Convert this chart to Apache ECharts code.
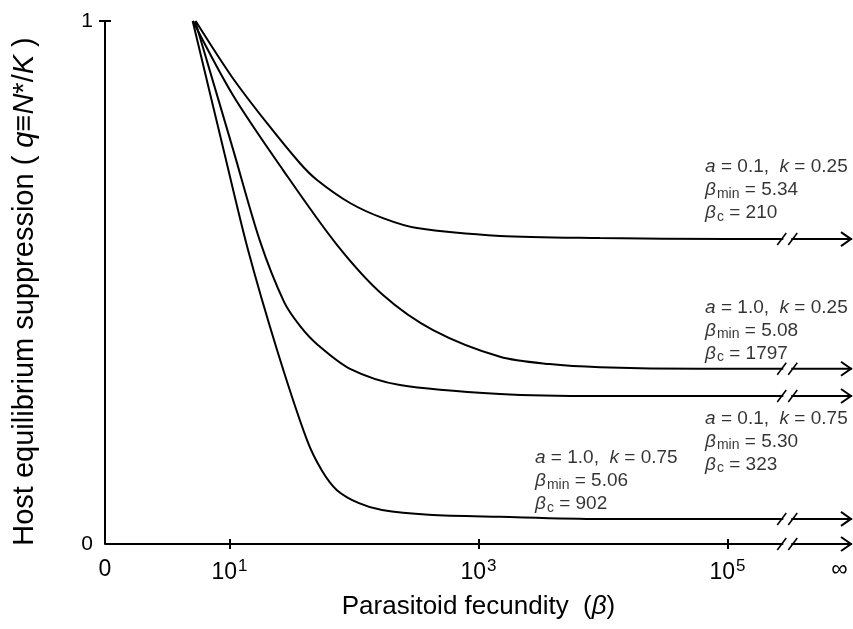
<!DOCTYPE html>
<html>
<head>
<meta charset="utf-8">
<title>Host equilibrium suppression</title>
<script src="https://cdn.jsdelivr.net/npm/echarts@6/dist/echarts.min.js"></script>
<style>
  html, body { margin: 0; padding: 0; background: #fff; }
  #chart-box { width: 853px; height: 629px; }
</style>
</head>
<body>
<div id="chart-box"></div>
<script>
// x = log10(beta), y = q = N*/K
var logBetaA = [0.728, 1.02, 1.30, 1.566, 1.703, 1.968, 2.233, 2.506, 3.173, 3.976, 5.0, 6.0];
var qA       = [1.0, 0.893, 0.805, 0.728, 0.696, 0.652, 0.623, 0.604, 0.589, 0.585, 0.583, 0.583];

var logBetaB = [0.706, 1.028, 1.43, 1.863, 2.233, 2.635, 3.173, 3.57, 3.976, 4.779, 6.0];
var qB       = [1.0, 0.858, 0.715, 0.572, 0.476, 0.409, 0.358, 0.344, 0.338, 0.335, 0.335];

var logBetaC = [0.724, 1.028, 1.245, 1.438, 1.566, 1.703, 1.968, 2.369, 3.173, 3.976, 6.0];
var qC       = [1.0, 0.755, 0.579, 0.463, 0.417, 0.382, 0.335, 0.304, 0.287, 0.283, 0.283];

var logBetaD = [0.704, 0.96, 1.149, 1.382, 1.622, 1.743, 1.863, 2.04, 2.225, 2.6, 3.173, 3.976, 6.0];
var qD       = [1.0, 0.746, 0.562, 0.371, 0.199, 0.140, 0.103, 0.078, 0.065, 0.056, 0.052, 0.048, 0.048];

var xTickValues = [1, 3, 5];
var xLabelValues = [0, 1, 3, 5, 5.9];
var xLabelExp = { 1: "1", 3: "3", 5: "5" };
var breakX = 5.48;

// annotation text blocks: [x, q of top edge]
var notePos = [[4.82, 0.743], [4.82, 0.474], [4.82, 0.262], [3.454, 0.187]];
var noteA = ["0.1", "1.0", "0.1", "1.0"];
var noteK = ["0.25", "0.25", "0.75", "0.75"];
var noteBetaMin = ["5.34", "5.08", "5.30", "5.06"];
var noteBetaC = ["210", "1797", "323", "902"];

function zip(xs, ys) {
  return xs.map(function (x, i) { return [x, ys[i]]; });
}

var font = "Liberation Sans";
var myChart = echarts.init(document.getElementById("chart-box"));

var curves = [zip(logBetaA, qA), zip(logBetaB, qB), zip(logBetaC, qC), zip(logBetaD, qD)];
var levels = [0, qA[qA.length - 1], qB[qB.length - 1], qC[qC.length - 1], qD[qD.length - 1]];

var series = curves.map(function (d) {
  return {
    type: "line",
    data: d,
    smooth: 0.3,
    showSymbol: false,
    lineStyle: { color: "#000", width: 2 },
    z: 2
  };
});

// the beta axis drawn as a line with a break and an arrow
series.push({
  type: "line",
  data: [[0, 0], [6, 0]],
  showSymbol: false,
  lineStyle: { color: "#000", width: 2 },
  z: 2
});

// break marks and arrow heads
series.push({
  type: "custom",
  clip: false,
  z: 5,
  data: levels.map(function (q) { return [breakX, q, 6]; }),
  renderItem: function (params, api) {
    var p = api.coord([api.value(0), api.value(1)]);
    var e = api.coord([api.value(2), api.value(1)]);
    var slash = { stroke: "#000", lineWidth: 1.6 };
    return {
      type: "group",
      children: [
        { type: "rect", shape: { x: p[0] - 4, y: p[1] - 3, width: 8, height: 6 }, style: { fill: "#fff" } },
        { type: "line", shape: { x1: p[0] - 10, y1: p[1] + 6, x2: p[0] - 1, y2: p[1] - 6 }, style: slash },
        { type: "line", shape: { x1: p[0] + 1, y1: p[1] + 6, x2: p[0] + 10, y2: p[1] - 6 }, style: slash },
        { type: "polyline", shape: { points: [[e[0] - 11, p[1] - 7], [e[0] - 1, p[1]], [e[0] - 11, p[1] + 7]] },
          style: { stroke: "#000", fill: null, lineWidth: 2 } }
      ]
    };
  }
});

// parameter notes
var noteRich = {
  n: { fontFamily: font, fontSize: 19, color: "#000", lineHeight: 23 },
  i: { fontFamily: font, fontSize: 19, fontStyle: "italic", color: "#000", lineHeight: 23 },
  s: { fontFamily: font, fontSize: 14, color: "#000", padding: [8, 0, 0, 1] }
};
series.push({
  type: "scatter",
  symbolSize: 0,
  silent: true,
  z: 4,
  data: notePos.map(function (p, i) {
    return {
      value: p,
      label: {
        show: true,
        position: [0, 0],
        align: "left",
        verticalAlign: "top",
        formatter:
          "{i|a}{n| = " + noteA[i] + ",  }{i|k}{n| = " + noteK[i] + "}\n" +
          "{i|β}{s|min}{n| = " + noteBetaMin[i] + "}\n" +
          "{i|β}{s|c}{n| = " + noteBetaC[i] + "}",
        rich: noteRich
      }
    };
  })
});

var option = {
  animation: false,
  backgroundColor: "#fff",
  grid: { left: 105, right: 1, top: 21, bottom: 85, containLabel: false, outerBoundsMode: "none" },
  xAxis: [
    {
      type: "value",
      min: 0,
      max: 6,
      axisLine: { show: false },
      splitLine: { show: false },
      axisTick: { show: true, customValues: xTickValues, length: 5, lineStyle: { color: "#000", width: 2 } },
      axisLabel: {
        customValues: xLabelValues,
        margin: 14,
        color: "#000",
        formatter: function (v) {
          if (v === 0) return "{n|0}";
          if (v > 5.5) return "{n|∞}";
          return "{n|10}{p|" + xLabelExp[v] + "}";
        },
        rich: {
          n: { fontFamily: font, fontSize: 23, color: "#000" },
          p: { fontFamily: font, fontSize: 17, color: "#000", padding: [0, 0, 13, 1] }
        }
      },
      name: "Parasitoid fecundity  ({i|β})",
      nameLocation: "middle",
      nameGap: 50,
      nameTextStyle: {
        fontFamily: font, fontSize: 26, color: "#000",
        rich: { i: { fontFamily: font, fontSize: 26, fontStyle: "italic", color: "#000" } }
      }
    },
    {
      type: "value",
      min: 0,
      max: 6,
      position: "bottom",
      axisLine: { show: false },
      splitLine: { show: false },
      axisLabel: { show: false },
      axisTick: { show: true, inside: true, customValues: xTickValues, length: 5, lineStyle: { color: "#000", width: 2 } }
    }
  ],
  yAxis: [
    {
      type: "value",
      min: 0,
      max: 1,
      axisLine: { show: true, lineStyle: { color: "#000", width: 2 } },
      splitLine: { show: false },
      axisTick: { show: true, customValues: [1], length: 6, lineStyle: { color: "#000", width: 2 } },
      axisLabel: {
        customValues: [0, 1],
        margin: 12,
        color: "#000",
        fontFamily: font,
        fontSize: 21
      },
      name: "Host equilibrium suppression ( {i|q}≡{i|N}*/{i|K} )",
      nameLocation: "middle",
      nameGap: 66,
      nameTextStyle: {
        fontFamily: font, fontSize: 29, color: "#000",
        padding: [0, 18, 0, 0],
        rich: { i: { fontFamily: font, fontSize: 29, fontStyle: "italic", color: "#000" } }
      }
    },
    {
      type: "value",
      min: 0,
      max: 1,
      position: "left",
      axisLine: { show: false },
      splitLine: { show: false },
      axisLabel: { show: false },
      axisTick: { show: true, inside: true, customValues: [1], length: 6, lineStyle: { color: "#000", width: 2 } }
    }
  ],
  series: series
};

myChart.setOption(option);
</script>
</body>
</html>
